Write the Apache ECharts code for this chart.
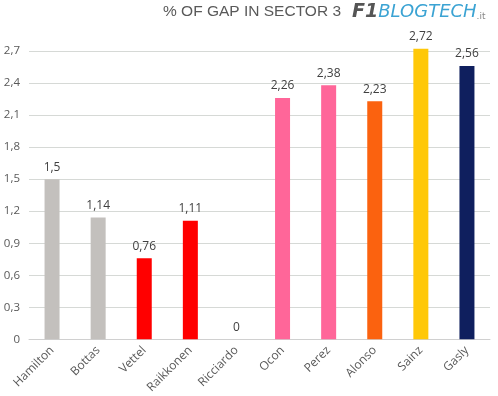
<!DOCTYPE html>
<html>
<head>
<meta charset="utf-8">
<script src="https://cdn.jsdelivr.net/npm/echarts@6/dist/echarts.min.js"></script>
<style>
  html, body { margin: 0; padding: 0; background: #fff; }
  #main { width: 498px; height: 396px; }
</style>
</head>
<body>
<div id="main"></div>
<script>
// piloti e gap percentuale nel settore 3
var drivers = ['Hamilton', 'Bottas', 'Vettel', 'Raikkonen', 'Ricciardo', 'Ocon', 'Perez', 'Alonso', 'Sainz', 'Gasly'];
var gapValues = [1.5, 1.14, 0.76, 1.11, 0, 2.26, 2.38, 2.23, 2.72, 2.56];
var teamColors = ['#c3c0bd', '#c3c0bd', '#ff0000', '#ff0000', '#ff0000', '#ff6699', '#ff6699', '#fb620f', '#ffc808', '#0f1f5e'];

var fmt = function(v) {
    return String(v).replace('.', ',');
};

var myChart = echarts.init(document.getElementById('main'));

var option = {
    backgroundColor: '#ffffff',
    animation: false,
    grid: {
        left: 29,
        right: 8,
        top: 51,
        bottom: 54
    },
    graphic: [{
        type: 'text',
        left: 163,
        top: 4,
        style: {
            text: '% OF GAP IN SECTOR 3',
            fill: '#595959',
            font: '15.5px "Liberation Sans", Arial, sans-serif'
        }
    }, {
        type: 'text',
        left: 352,
        top: 3,
        style: {
            text: '{f|F1}{b|BLOGTECH}{i|.it}',
            rich: {
                f: { fill: '#555555', font: 'italic bold 19px "DejaVu Sans", sans-serif' },
                b: { fill: '#3ba3d3', font: 'italic 18px "DejaVu Sans", sans-serif' },
                i: { fill: '#888888', font: '9px "DejaVu Sans", sans-serif', padding: [8, 0, 0, 0] }
            }
        }
    }],
    xAxis: {
        type: 'category',
        data: drivers,
        axisLine: { lineStyle: { color: '#d0d0d0' } },
        axisTick: { show: false },
        axisLabel: {
            rotate: 45,
            interval: 0,
            color: '#595959',
            fontSize: 12,
            fontFamily: '"Open Sans", sans-serif',
            margin: 9
        }
    },
    yAxis: {
        type: 'value',
        min: 0,
        max: 2.7,
        interval: 0.3,
        axisLine: { show: false },
        axisTick: { show: false },
        splitLine: { lineStyle: { color: '#d6d9d6' } },
        axisLabel: {
            color: '#595959',
            fontSize: 11.5,
            fontFamily: '"Open Sans", sans-serif',
            margin: 9,
            formatter: function(v) {
                return fmt(Math.round(v * 10) / 10);
            }
        }
    },
    series: [{
        type: 'bar',
        barWidth: 15,
        clip: false,
        data: gapValues.map(function(v, i) {
            return { value: v, itemStyle: { color: teamColors[i] } };
        }),
        label: {
            show: true,
            position: 'top',
            distance: 6,
            color: '#404040',
            fontSize: 12,
            fontFamily: '"Open Sans", sans-serif',
            formatter: function(p) {
                return fmt(p.value);
            }
        }
    }]
};

myChart.setOption(option);
</script>
</body>
</html>
